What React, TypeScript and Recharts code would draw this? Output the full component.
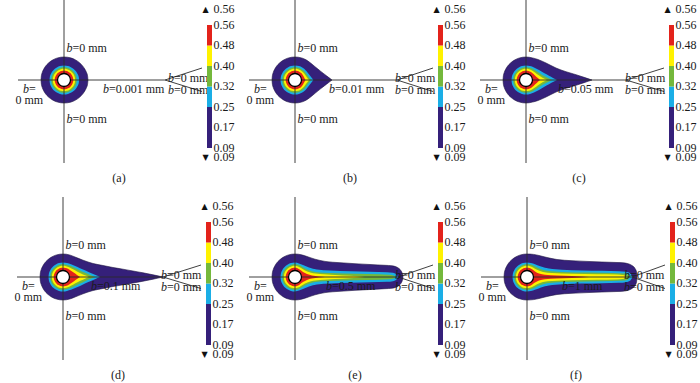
import React from 'react';
import {
  ComposedChart,
  Area,
  XAxis,
  YAxis,
  ReferenceLine,
  ReferenceDot,
  BarChart,
  Bar,
} from 'recharts';

// ---------- data (units ~ px from the hole centre) ----------
const LEVEL_COLORS = ['#35207a', '#1aaee6', '#74b83c', '#fff200', '#e3231b'];

// left halves (x <= 0) shared by all panels: [x, half-width]
const LEFT_PURPLE = [[-23, 0], [-22.6, 4.3], [-21.8, 7.3], [-20.5, 10.4], [-18.5, 13.7], [-15.5, 17], [-11.5, 19.9], [-6.5, 22.1], [0, 23]];
const LEFT_CYAN = [[-14.5, 0], [-14.2, 2.8], [-13.7, 4.8], [-12.9, 6.6], [-11.6, 8.7], [-9.7, 10.8], [-7.2, 12.6], [-4, 13.9], [0, 14.5]];
const LEFT_GREEN = [[-12.8, 0], [-12.5, 2.5], [-12, 4.3], [-11.3, 5.9], [-10.2, 7.6], [-8.5, 9.5], [-6.3, 11.1], [-3.5, 12.3], [0, 12.8]];
const LEFT_YELLOW = [[-11.2, 0], [-10.9, 2.2], [-10.5, 3.7], [-9.9, 5.2], [-8.9, 6.7], [-7.4, 8.3], [-5.5, 9.7], [-3, 10.8], [0, 11.2]];
const LEFT_RED = [[-9.3, 0], [-9.1, 1.8], [-8.7, 3.1], [-8.2, 4.3], [-7.4, 5.6], [-6.2, 6.9], [-4.6, 8.1], [-2.5, 9], [0, 9.3]];

// right halves (x > 0), one per panel (a)..(f)
const RIGHT_PURPLE = [
  [[6.5, 22.2], [11.5, 20.1], [15.5, 17.3], [18.6, 14.1], [20.8, 10.9], [22.4, 7.8], [23.5, 4.5], [24, 0]],
  [[6.5, 22.1], [11, 20.2], [14.3, 18], [20, 13.3], [25.8, 8.6], [31.5, 4.2], [37, 0]],
  [[6.5, 22.1], [12, 20.5], [20, 17], [30, 12], [40, 8.3], [50, 5.3], [58, 2.7], [66, 0]],
  [[6.5, 22.1], [12, 20], [20, 16.8], [30, 13.5], [40, 11.5], [50, 9.5], [60, 7.8], [70, 6], [80, 4.2], [90, 2.2], [100, 0]],
  [[6.5, 22.2], [12, 20.5], [20, 17.8], [30, 15.6], [45, 14.3], [60, 13.3], [75, 12.5], [90, 11.7], [97, 11.2], [101, 10.2], [104, 8.5], [106, 6.3], [107.3, 3.5], [108, 0]],
  [[6.5, 22.6], [12, 21.5], [20, 19.5], [30, 17.5], [45, 16.3], [60, 15.6], [75, 15], [90, 14.5], [96, 14.2], [101, 13.3], [105, 11.5], [108, 8.5], [109.5, 5], [110, 0]],
];
const RIGHT_CYAN = [
  [[4, 13.9], [7.3, 12.6], [9.9, 10.8], [11.9, 8.7], [13.3, 6.6], [14.2, 4.8], [14.8, 2.8], [15.1, 0]],
  [[4, 13.9], [7.2, 12.6], [9.7, 10.8], [11.4, 8.9], [14.9, 4.4], [18.4, 0]],
  [[4, 13.9], [8, 12.5], [13, 10], [18, 7], [23, 4.3], [27, 2.1], [31, 0]],
  [[4, 13.9], [8, 12.8], [14, 10.3], [20, 7.5], [26, 4.8], [32, 2.2], [37, 0]],
  [[4, 13.6], [8, 12], [14, 9.5], [22, 7.5], [35, 6.5], [55, 5.8], [75, 5.2], [92, 4.8], [98, 4.2], [101, 3], [103, 0]],
  [[4, 14], [8, 12.8], [14, 10.5], [22, 8.5], [35, 7.3], [55, 6.6], [75, 6.2], [92, 5.8], [99, 5.2], [103, 3.8], [105.5, 0]],
];
const RIGHT_GREEN = [
  [[3.5, 12.3], [6.3, 11.1], [8.5, 9.5], [10.2, 7.6], [11.3, 5.9], [12, 4.3], [12.5, 2.5], [12.8, 0]],
  [[3.5, 12.3], [6.3, 11.1], [8.5, 9.5], [10.2, 7.7], [13.1, 3.8], [16, 0]],
  [[3.5, 12.3], [7, 11], [11, 8.5], [15, 5.8], [19, 3.5], [23, 1.5], [26, 0]],
  [[3.5, 12.3], [7, 11.2], [12, 9], [17, 6.5], [22, 4.2], [27, 2], [32, 0]],
  [[3.5, 12.2], [7, 10.3], [12, 7.5], [20, 5], [35, 4], [60, 3.3], [85, 2.8], [95, 2.3], [99, 1.2], [100.5, 0]],
  [[3.5, 12.4], [7, 11], [12, 8.5], [20, 6.2], [35, 5], [60, 4.4], [85, 4], [97, 3.6], [101, 2.5], [103, 0]],
];
const RIGHT_YELLOW = [
  [[3, 10.8], [5.5, 9.7], [7.4, 8.3], [8.9, 6.7], [9.9, 5.2], [10.5, 3.7], [10.9, 2.2], [11.2, 0]],
  [[3, 10.8], [5.5, 9.7], [7.4, 8.3], [9, 6.7], [11.5, 3.3], [14, 0]],
  [[3, 10.8], [6, 9.5], [9, 7.5], [12, 5.2], [15, 3.2], [18, 1.5], [21, 0]],
  [[3, 10.8], [6, 9.8], [10, 7.8], [14, 5.6], [18, 3.6], [22, 1.7], [26, 0]],
  [[3, 10.6], [6, 9], [10, 6.5], [16, 4.2], [25, 3], [40, 2], [55, 1.2], [70, 0]],
  [[3, 10.8], [6, 9.5], [10, 7.2], [16, 5], [25, 4], [45, 3.2], [70, 2.8], [90, 2.5], [97, 1.8], [100, 0]],
];
const RIGHT_RED = [
  [[2.5, 9], [4.6, 8.1], [6.2, 6.9], [7.4, 5.6], [8.2, 4.3], [8.7, 3.1], [9.1, 1.8], [9.3, 0]],
  [[2.5, 9], [4.6, 8.1], [6.2, 6.9], [7.4, 5.6], [8.2, 4.3], [9.4, 2.1], [10.5, 0]],
  [[2.5, 9], [5, 8], [7.5, 6], [9.5, 4], [11.5, 2.2], [14, 0]],
  [[2.5, 9], [5, 8.2], [8, 6.3], [11, 4.2], [14, 2], [17, 0]],
  [[2.5, 8.8], [5, 7.2], [8, 5], [12, 3], [17, 1.6], [24, 0.6], [30, 0]],
  [[2.5, 9], [5, 7.8], [8, 5.6], [12, 3.5], [18, 2.2], [30, 1.6], [45, 1.1], [55, 0.6], [62, 0]],
];

const LEFTS = [LEFT_PURPLE, LEFT_CYAN, LEFT_GREEN, LEFT_YELLOW, LEFT_RED];
const RIGHTS = [RIGHT_PURPLE, RIGHT_CYAN, RIGHT_GREEN, RIGHT_YELLOW, RIGHT_RED];

const PANEL_TAGS = ['(a)', '(b)', '(c)', '(d)', '(e)', '(f)'];
const MID_LABELS = ['b=0.001 mm', 'b=0.01 mm', 'b=0.05 mm', 'b=0.1 mm', 'b=0.5 mm', 'b=1 mm'];
const ZERO_LABEL = 'b=0 mm';

// colour bar
const CB_LABELS = ['0.09', '0.17', '0.25', '0.32', '0.40', '0.48', '0.56'];
const CB_DATA = [{ n: 'cb', p: 2, c: 1, g: 1, y: 1, r: 1 }];
const CB_KEYS = ['p', 'c', 'g', 'y', 'r'];

// ---------- layout ----------
const PANEL_POS = [[64, 80], [295, 80], [526, 80], [63, 277], [295, 277], [527, 277]];
const FAN_X = [101, 102, 100, 100, 103, 105];
const MID_X = [39, 34, 32, 28, 31, 35];
const FAN_LX = [104, 100, 99, 98, 100, 97];
const TAG_X = [55, 55, 53, 55, 60, 49];
const FONT = '"Liberation Serif", "Times New Roman", serif';

const buildLevel = (left: number[][], right: number[][]) =>
  left.concat(right).map(([x, h]) => ({ x, r: [-h, h] }));

function Note({ cx, cy, text, anchor }: any) {
  const italic = text.startsWith('b');
  return (
    <text
      x={cx}
      y={cy}
      fontFamily={FONT}
      fontSize={12}
      fill="#1a1a1a"
      dominantBaseline="central"
      textAnchor={anchor || 'start'}
    >
      {italic ? (
        <>
          <tspan fontStyle="italic">b</tspan>
          <tspan>{text.slice(1)}</tspan>
        </>
      ) : (
        text
      )}
    </text>
  );
}

function CbTick({ x, y, payload }: any) {
  const v = payload.value;
  let label: string;
  let tri: string | null = null;
  if (v < 0) {
    label = CB_LABELS[0];
    tri = '\u25BC';
  } else if (v > 6) {
    label = CB_LABELS[6];
    tri = '\u25B2';
  } else {
    label = CB_LABELS[Math.round(v)];
  }
  return (
    <g>
      {tri && (
        <text x={x - 11} y={y} fontSize={8} fontFamily="DejaVu Sans" fill="#111" dominantBaseline="central">
          {tri}
        </text>
      )}
      <text x={x} y={y} fontSize={12} fontFamily={FONT} fill="#1a1a1a" dominantBaseline="central">
        {label}
      </text>
    </g>
  );
}

function ColorBar() {
  return (
    <BarChart
      width={42}
      height={170}
      data={CB_DATA}
      margin={{ top: 9, right: 0, bottom: 13, left: 7 }}
      barCategoryGap={0}
    >
      <XAxis dataKey="n" type="category" hide />
      <YAxis
        orientation="right"
        type="number"
        domain={[-0.44, 6.78]}
        ticks={[-0.44, 0, 1, 2, 3, 4, 5, 6, 6.78]}
        allowDataOverflow
        width={30.5}
        axisLine={false}
        tickLine={false}
        tickSize={0}
        tickMargin={2}
        interval={0}
        tick={<CbTick />}
      />
      {CB_KEYS.map((k, i) => (
        <Bar key={k} dataKey={k} stackId="s" fill={LEVEL_COLORS[i]} isAnimationActive={false} />
      ))}
    </BarChart>
  );
}

function Panel({ i }: { i: number }) {
  const [px, py] = PANEL_POS[i];
  const levels = LEFTS.map((l, k) => buildLevel(l, RIGHTS[k][i]));
  const fx = FAN_X[i];
  const notes = [
    { x: 2.5, y: 32, t: ZERO_LABEL },
    { x: 2.5, y: -38.5, t: ZERO_LABEL },
    { x: -41, y: -8.5, t: 'b=' },
    { x: -48.5, y: -20, t: '0 mm' },
    { x: MID_X[i], y: -8.5, t: MID_LABELS[i] },
    { x: FAN_LX[i], y: 2, t: ZERO_LABEL },
    { x: FAN_LX[i], y: -10, t: ZERO_LABEL },
  ];
  const line = { stroke: '#2a2a2a', strokeWidth: 0.9, ifOverflow: 'visible' as const };
  return (
    <>
      <div style={{ position: 'absolute', left: px - 64, top: py - 80 }}>
        <ComposedChart width={222} height={190} margin={{ top: 0, right: 0, bottom: 0, left: 0 }}>
          <XAxis type="number" dataKey="x" domain={[-64, 158]} hide allowDataOverflow />
          <YAxis type="number" dataKey="y" domain={[-110, 80]} hide allowDataOverflow />
          {levels.map((d, k) => (
            <Area
              key={k}
              data={d}
              dataKey="r"
              type="monotone"
              fill={LEVEL_COLORS[k]}
              fillOpacity={1}
              stroke={k === 0 ? '#1c1240' : 'none'}
              strokeWidth={0.6}
              dot={false}
              activeDot={false}
              isAnimationActive={false}
            />
          ))}
          <ReferenceLine segment={[{ x: 0, y: 80 }, { x: 0, y: -83 }]} {...line} />
          <ReferenceLine segment={[{ x: -46, y: 0 }, { x: fx, y: 0 }]} {...line} />
          <ReferenceLine segment={[{ x: fx, y: 0 }, { x: 138, y: 12 }]} {...line} />
          <ReferenceLine segment={[{ x: fx, y: 0 }, { x: 138, y: -11.5 }]} {...line} />
          <ReferenceDot x={0} y={0} r={6.5} fill="#ffffff" stroke="#000" strokeWidth={1.3} ifOverflow="visible" />
          {notes.map((n, k) => (
            <ReferenceDot
              key={'n' + k}
              x={n.x}
              y={n.y}
              r={0}
              ifOverflow="visible"
              shape={(p: any) => <Note cx={p.cx} cy={p.cy} text={n.t} />}
            />
          ))}
          <ReferenceDot
            x={TAG_X[i]}
            y={-98}
            r={0}
            ifOverflow="visible"
            shape={(p: any) => <Note cx={p.cx} cy={p.cy} text={PANEL_TAGS[i]} anchor="middle" />}
          />
        </ComposedChart>
      </div>
      <div style={{ position: 'absolute', left: px + 136, top: py - 80 }}>
        <ColorBar />
      </div>
    </>
  );
}

export default function App() {
  return (
    <div
      style={{
        position: 'absolute',
        left: 0,
        top: 0,
        width: 700,
        height: 383,
        overflow: 'hidden',
        background: '#fff',
      }}
    >
      {PANEL_TAGS.map((_, i) => (
        <Panel key={i} i={i} />
      ))}
    </div>
  );
}
